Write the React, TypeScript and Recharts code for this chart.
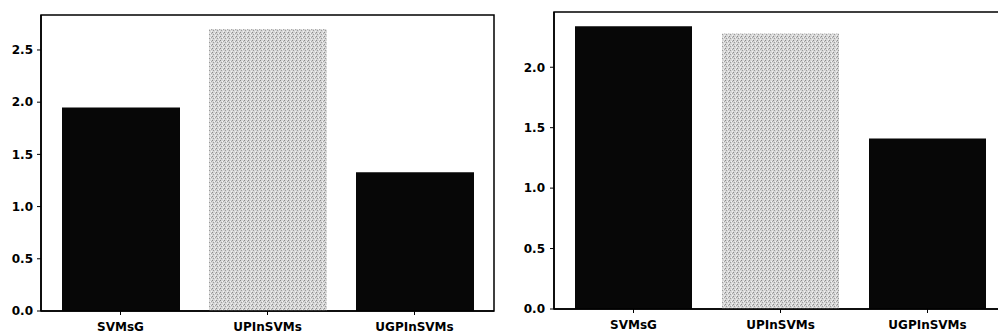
import React from "react";
import { BarChart, Bar, XAxis, YAxis, Cell, ReferenceArea } from "recharts";

const categories = ["SVMsG", "UPInSVMs", "UGPInSVMs"];
const leftValues = [1.95, 2.7, 1.33];
const rightValues = [2.34, 2.28, 1.41];
const leftTicks = [0, 0.5, 1.0, 1.5, 2.0, 2.5];
const rightTicks = [0, 0.5, 1.0, 1.5, 2.0];
const barFills = ["#070707", "url(#stipple)", "#070707"];

const leftData = categories.map((name, i) => ({ name, value: leftValues[i] }));
const rightData = categories.map((name, i) => ({ name, value: rightValues[i] }));

const FONT = "'DejaVu Sans', sans-serif";
const tickStyle = { fill: "#000", fontSize: 12, fontWeight: 700, fontFamily: FONT };
const axisLine = { stroke: "#000", strokeWidth: 1.5 };

function Stipple() {
  return (
    <defs>
      <pattern id="stipple" width="4" height="4" patternUnits="userSpaceOnUse">
        <rect width="4" height="4" fill="#d6d6d6" />
        <rect x="0" y="0" width="1" height="1" fill="#8a8a8a" />
        <rect x="2" y="1" width="1" height="1" fill="#f4f4f4" />
        <rect x="1" y="2" width="1" height="1" fill="#9a9a9a" />
        <rect x="3" y="3" width="1" height="1" fill="#f0f0f0" />
        <rect x="3" y="1" width="1" height="1" fill="#a8a8a8" />
      </pattern>
    </defs>
  );
}

type PanelProps = {
  data: { name: string; value: number }[];
  ticks: number[];
  top: number;
  domainMax: number;
  xHeight: number;
  barSize: number;
  pad: number;
  yTickMargin: number;
};

function Panel({ data, ticks, top, domainMax, xHeight, barSize, pad, yTickMargin }: PanelProps) {
  return (
    <BarChart
      width={500}
      height={333}
      data={data}
      margin={{ top, right: 6, bottom: 0, left: 0 }}
    >
      <Stipple />
      <XAxis
        dataKey="name"
        height={xHeight}
        padding={{ left: pad, right: pad }}
        tick={tickStyle}
        tickSize={4}
        tickMargin={7}
        axisLine={axisLine}
        tickLine={{ stroke: "#000", strokeWidth: 1 }}
        interval={0}
      />
      <XAxis
        xAxisId="box"
        type="number"
        domain={[0, 2]}
        allowDataOverflow
        hide
      />
      <YAxis
        width={41}
        domain={[0, domainMax]}
        ticks={ticks}
        allowDataOverflow
        tick={tickStyle}
        tickFormatter={(v: number) => v.toFixed(1)}
        tickSize={4}
        tickMargin={yTickMargin}
        axisLine={axisLine}
        tickLine={{ stroke: "#000", strokeWidth: 1 }}
      />
      <Bar dataKey="value" barSize={barSize} isAnimationActive={false}>
        {data.map((d, i) => (
          <Cell key={d.name} fill={barFills[i]} />
        ))}
      </Bar>
      <ReferenceArea
        xAxisId="box"
        x1={0}
        x2={2}
        y1={0}
        y2={domainMax}
        fill="none"
        fillOpacity={0}
        stroke="#000"
        strokeWidth={1.5}
        ifOverflow="visible"
      />
    </BarChart>
  );
}

export default function App() {
  return (
    <div
      style={{
        position: "absolute",
        left: 0,
        top: 0,
        width: 998,
        height: 333,
        overflow: "hidden",
        background: "#fff",
      }}
    >
      <div style={{ position: "absolute", left: 0, top: 0 }}>
        <Panel
          data={leftData}
          ticks={leftTicks}
          top={15}
          domainMax={2.835}
          xHeight={22}
          barSize={118}
          pad={6}
          yTickMargin={4}
        />
      </div>
      <div style={{ position: "absolute", left: 513, top: 0 }}>
        <Panel
          data={rightData}
          ticks={rightTicks}
          top={12}
          domainMax={2.457}
          xHeight={24}
          barSize={117}
          pad={6}
          yTickMargin={5}
        />
      </div>
    </div>
  );
}
